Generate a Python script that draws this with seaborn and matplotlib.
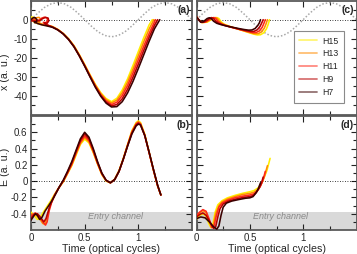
import matplotlib
matplotlib.use("Agg")
import matplotlib.pyplot as plt
import pandas as pd
import seaborn as sns
from matplotlib.lines import Line2D

# ---------------- data ----------------
harmonics = ["H15", "H13", "H11", "H9", "H7"]
colors = ["#ffee00", "#ff8c00", "#ff2a1a", "#b80000", "#3c0000"]

# reference field (grey dotted)
field_t = [0.0, 0.0625, 0.125, 0.1875, 0.25, 0.3125, 0.375, 0.4375, 0.5, 0.5625, 0.625,
           0.6875, 0.75, 0.8125, 0.875, 0.9375, 1.0, 1.0625, 1.125, 1.1875, 1.25, 1.3125,
           1.375, 1.4375, 1.5]
field_v = [0.0, 3.4, 6.4, 8.3, 9.0, 8.3, 6.4, 3.4, 0.0, -3.4, -6.4, -8.3, -9.0, -8.3, -6.4,
           -3.4, 0.0, 3.4, 6.4, 8.3, 9.0, 8.3, 6.4, 3.4, 0.0]

# (a) long trajectories x(t)
a_t_H15 = [0.00, 0.025, 0.04, 0.035, 0.02, 0.04, 0.08, 0.12, 0.16, 0.20, 0.25, 0.30, 0.35, 0.40,
           0.45, 0.50, 0.55, 0.60, 0.65, 0.70, 0.75, 0.80, 0.85, 0.90, 0.95, 1.00, 1.05, 1.10, 1.13]
a_x_H15 = [1.5, 1.2, 0.0, -1.0, -0.8, -1.6, -2.3, -2.8, -3.2, -3.6, -5.1, -7.2, -10.0, -13.6,
           -18.3, -23.5, -28.9, -34.0, -38.3, -41.4, -43.0, -41.2, -36.9, -31.0, -24.0, -16.7,
           -9.5, -2.8, 0.0]
a_t_H13 = [0.00, 0.03, 0.05, 0.075, 0.09, 0.08, 0.06, 0.08, 0.12, 0.16, 0.20, 0.25, 0.30, 0.35,
           0.40, 0.45, 0.50, 0.55, 0.60, 0.65, 0.70, 0.75, 0.80, 0.85, 0.90, 0.95, 1.00, 1.05,
           1.10, 1.145]
a_x_H13 = [0.5, 0.2, 1.0, 1.2, 0.3, -1.0, -1.0, -1.8, -2.6, -3.1, -3.7, -5.2, -7.3, -10.2, -13.8,
           -18.6, -23.8, -29.2, -34.4, -38.8, -42.0, -43.7, -42.2, -38.3, -32.7, -26.0, -18.8,
           -11.7, -5.0, 0.0]
a_t_H11 = [0.00, 0.04, 0.08, 0.10, 0.125, 0.15, 0.155, 0.14, 0.115, 0.13, 0.16, 0.20, 0.25, 0.30,
           0.35, 0.40, 0.45, 0.50, 0.55, 0.60, 0.65, 0.70, 0.75, 0.80, 0.85, 0.90, 0.95, 1.00,
           1.05, 1.10, 1.16]
a_x_H11 = [0.0, -0.3, -0.2, 0.8, 1.3, 0.9, -0.5, -1.6, -1.4, -2.3, -3.0, -3.8, -5.3, -7.4, -10.3,
           -14.0, -18.8, -24.0, -29.5, -34.8, -39.3, -42.7, -44.5, -43.3, -39.8, -34.5, -28.0,
           -21.0, -14.0, -7.3, 0.0]
a_t_H9 = [0.00, 0.04, 0.08, 0.11, 0.135, 0.16, 0.165, 0.15, 0.125, 0.14, 0.17, 0.20, 0.25, 0.30,
          0.35, 0.40, 0.45, 0.50, 0.55, 0.60, 0.65, 0.70, 0.75, 0.80, 0.85, 0.90, 0.95, 1.00,
          1.05, 1.10, 1.15, 1.18]
a_x_H9 = [-0.6, -0.8, -0.5, 0.6, 1.2, 0.8, -0.7, -1.9, -1.7, -2.6, -3.2, -3.9, -5.3, -7.4, -10.3,
          -14.1, -18.9, -24.2, -29.8, -35.2, -39.8, -43.3, -45.2, -44.5, -41.5, -36.5, -30.2,
          -23.3, -16.2, -9.3, -3.0, 0.0]
a_t_H7 = [0.00, 0.02, 0.04, 0.055, 0.05, 0.035, 0.03, 0.06, 0.10, 0.15, 0.20, 0.25, 0.30, 0.35,
          0.40, 0.45, 0.50, 0.55, 0.60, 0.65, 0.70, 0.75, 0.80, 0.85, 0.90, 0.95, 1.00, 1.05,
          1.10, 1.15, 1.20]
a_x_H7 = [0.0, 1.0, 1.0, 0.0, -1.3, -1.6, -1.0, -2.0, -2.7, -3.3, -4.0, -5.4, -7.5, -10.4, -14.2,
          -19.0, -24.4, -30.0, -35.5, -40.2, -43.8, -45.8, -45.6, -43.0, -38.4, -32.4, -25.6,
          -18.5, -11.4, -4.8, 0.0]

# (b) long trajectories E(t)
b_t_H15 = [0.00, 0.03, 0.06, 0.08, 0.11, 0.15, 0.18, 0.22, 0.26, 0.30, 0.34, 0.38, 0.42, 0.46,
           0.50, 0.54, 0.58, 0.62, 0.66, 0.70, 0.74, 0.78, 0.82, 0.86, 0.90, 0.94, 0.98, 1.00,
           1.02, 1.06, 1.10, 1.14, 1.18, 1.21]
b_e_H15 = [-0.38, -0.42, -0.47, -0.46, -0.39, -0.31, -0.25, -0.16, -0.08, -0.01, 0.09, 0.19,
           0.32, 0.45, 0.515, 0.47, 0.35, 0.21, 0.08, 0.00, -0.02, 0.025, 0.13, 0.28, 0.45, 0.62,
           0.72, 0.74, 0.72, 0.575, 0.36, 0.14, -0.06, -0.17]
b_t_H13 = [0.00, 0.04, 0.08, 0.11, 0.13, 0.15, 0.18, 0.22, 0.26, 0.30, 0.34, 0.38, 0.42, 0.46,
           0.50, 0.54, 0.58, 0.62, 0.66, 0.70, 0.74, 0.78, 0.82, 0.86, 0.90, 0.94, 0.98, 1.00,
           1.02, 1.06, 1.10, 1.14, 1.18, 1.21]
b_e_H13 = [-0.40, -0.41, -0.46, -0.52, -0.53, -0.44, -0.29, -0.17, -0.08, -0.005, 0.095, 0.20,
           0.335, 0.465, 0.535, 0.485, 0.36, 0.215, 0.085, 0.005, -0.02, 0.02, 0.125, 0.275,
           0.445, 0.61, 0.71, 0.73, 0.71, 0.57, 0.355, 0.14, -0.06, -0.17]
b_t_H11 = [0.00, 0.04, 0.08, 0.11, 0.135, 0.15, 0.17, 0.19, 0.22, 0.26, 0.30, 0.34, 0.38, 0.42,
           0.46, 0.50, 0.54, 0.58, 0.62, 0.66, 0.70, 0.74, 0.78, 0.82, 0.86, 0.90, 0.94, 0.98,
           1.00, 1.02, 1.06, 1.10, 1.14, 1.18, 1.21]
b_e_H11 = [-0.43, -0.39, -0.43, -0.50, -0.54, -0.50, -0.36, -0.27, -0.17, -0.08, 0.00, 0.10,
           0.21, 0.35, 0.48, 0.555, 0.50, 0.37, 0.22, 0.09, 0.01, -0.02, 0.02, 0.12, 0.27, 0.44,
           0.60, 0.70, 0.72, 0.70, 0.56, 0.35, 0.14, -0.06, -0.17]
b_t_H9 = [0.00, 0.03, 0.06, 0.09, 0.12, 0.14, 0.17, 0.19, 0.22, 0.26, 0.30, 0.34, 0.38, 0.42,
          0.46, 0.50, 0.54, 0.58, 0.62, 0.66, 0.70, 0.74, 0.78, 0.82, 0.86, 0.90, 0.94, 0.98,
          1.00, 1.02, 1.06, 1.10, 1.14, 1.18, 1.21]
b_e_H9 = [-0.46, -0.41, -0.40, -0.45, -0.50, -0.46, -0.33, -0.26, -0.18, -0.08, 0.005, 0.11,
          0.225, 0.365, 0.50, 0.58, 0.52, 0.385, 0.23, 0.095, 0.01, -0.02, 0.02, 0.12, 0.27,
          0.435, 0.59, 0.69, 0.71, 0.695, 0.56, 0.355, 0.145, -0.055, -0.17]
b_t_H7 = [0.00, 0.02, 0.04, 0.06, 0.08, 0.10, 0.13, 0.17, 0.19, 0.22, 0.26, 0.30, 0.34, 0.38,
          0.42, 0.46, 0.50, 0.54, 0.58, 0.62, 0.66, 0.70, 0.74, 0.78, 0.82, 0.86, 0.90, 0.94,
          0.98, 1.00, 1.02, 1.06, 1.10, 1.14, 1.18, 1.21]
b_e_H7 = [-0.48, -0.44, -0.40, -0.42, -0.47, -0.45, -0.37, -0.29, -0.25, -0.18, -0.08, 0.01,
          0.12, 0.24, 0.38, 0.52, 0.60, 0.54, 0.40, 0.24, 0.10, 0.01, -0.02, 0.02, 0.12, 0.27,
          0.43, 0.58, 0.68, 0.70, 0.69, 0.56, 0.36, 0.15, -0.05, -0.17]

# (c) short trajectories x(t)
c_t_H15 = [0.00, 0.02, 0.05, 0.10, 0.13, 0.165, 0.19, 0.21, 0.23, 0.26, 0.30, 0.36, 0.42, 0.48,
           0.53, 0.57, 0.60, 0.63, 0.655, 0.67, 0.685]
c_x_H15 = [1.5, 0.0, -1.5, -1.3, -0.3, 0.8, 1.1, 0.6, -1.1, -2.4, -3.3, -4.4, -5.5, -6.6, -7.5,
           -8.0, -7.9, -6.9, -4.9, -2.8, 0.0]
c_t_H13 = [0.00, 0.02, 0.05, 0.09, 0.12, 0.15, 0.175, 0.195, 0.215, 0.245, 0.29, 0.34, 0.40,
           0.46, 0.51, 0.55, 0.58, 0.61, 0.635, 0.65, 0.665]
c_x_H13 = [1.5, 0.0, -1.5, -1.3, -0.3, 0.8, 1.1, 0.6, -1.0, -2.3, -3.2, -4.1, -5.1, -6.1, -6.9,
           -7.4, -7.3, -6.4, -4.5, -2.5, 0.0]
c_t_H11 = [0.00, 0.02, 0.045, 0.08, 0.11, 0.14, 0.16, 0.18, 0.20, 0.23, 0.27, 0.32, 0.38, 0.44,
           0.49, 0.53, 0.56, 0.59, 0.615, 0.63, 0.645]
c_x_H11 = [1.5, 0.0, -1.4, -1.3, -0.3, 0.7, 1.1, 0.6, -0.9, -2.1, -3.0, -3.9, -4.8, -5.6, -6.3,
           -6.8, -6.7, -5.9, -4.1, -2.2, 0.0]
c_t_H9 = [0.00, 0.02, 0.04, 0.07, 0.10, 0.12, 0.14, 0.16, 0.18, 0.21, 0.25, 0.30, 0.36, 0.42,
          0.47, 0.51, 0.54, 0.57, 0.595, 0.61, 0.625]
c_x_H9 = [1.5, 0.0, -1.3, -1.3, -0.3, 0.6, 1.1, 0.6, -0.8, -2.0, -2.8, -3.6, -4.4, -5.2, -5.8,
          -6.2, -6.1, -5.3, -3.6, -1.9, 0.0]
c_t_H7 = [0.00, 0.02, 0.04, 0.06, 0.08, 0.10, 0.12, 0.14, 0.16, 0.19, 0.23, 0.28, 0.34, 0.40,
          0.45, 0.49, 0.52, 0.55, 0.575, 0.59, 0.60]
c_x_H7 = [1.5, 0.0, -1.3, -1.2, -0.3, 0.6, 1.0, 0.5, -0.8, -1.9, -2.6, -3.3, -4.0, -4.7, -5.2,
          -5.5, -5.4, -4.6, -3.0, -1.6, 0.0]

# (d) short trajectories E(t)
d_t_H15 = [0.00, 0.03, 0.06, 0.09, 0.115, 0.135, 0.155, 0.175, 0.20, 0.24, 0.29, 0.36, 0.43,
           0.50, 0.54, 0.58, 0.62, 0.66, 0.69]
d_e_H15 = [-0.47, -0.42, -0.40, -0.43, -0.52, -0.57, -0.52, -0.38, -0.29, -0.24, -0.205, -0.175,
           -0.15, -0.13, -0.115, -0.08, 0.00, 0.13, 0.28]
d_t_H13 = [0.00, 0.03, 0.06, 0.09, 0.12, 0.14, 0.16, 0.18, 0.21, 0.24, 0.29, 0.36, 0.43, 0.50,
           0.54, 0.58, 0.61, 0.64, 0.665]
d_e_H13 = [-0.44, -0.39, -0.36, -0.39, -0.50, -0.57, -0.53, -0.40, -0.30, -0.255, -0.22, -0.19,
           -0.165, -0.15, -0.135, -0.10, -0.03, 0.07, 0.19]
d_t_H11 = [0.00, 0.03, 0.06, 0.09, 0.12, 0.145, 0.165, 0.185, 0.21, 0.24, 0.29, 0.36, 0.43,
           0.50, 0.54, 0.57, 0.60, 0.625, 0.645]
d_e_H11 = [-0.42, -0.38, -0.35, -0.37, -0.47, -0.57, -0.55, -0.43, -0.32, -0.27, -0.235, -0.205,
           -0.185, -0.17, -0.155, -0.12, -0.06, 0.02, 0.12]
d_t_H9 = [0.00, 0.03, 0.06, 0.09, 0.13, 0.16, 0.18, 0.20, 0.22, 0.25, 0.30, 0.37, 0.44, 0.50,
          0.535, 0.56, 0.59, 0.61, 0.625]
d_e_H9 = [-0.44, -0.41, -0.39, -0.42, -0.51, -0.58, -0.56, -0.44, -0.34, -0.28, -0.245, -0.22,
          -0.20, -0.19, -0.175, -0.14, -0.08, -0.02, 0.05]
d_t_H7 = [0.00, 0.04, 0.08, 0.12, 0.16, 0.19, 0.21, 0.23, 0.25, 0.28, 0.33, 0.40, 0.46, 0.50,
          0.53, 0.56, 0.58, 0.60]
d_e_H7 = [-0.46, -0.44, -0.45, -0.50, -0.56, -0.59, -0.55, -0.42, -0.32, -0.27, -0.245, -0.225,
          -0.21, -0.205, -0.19, -0.14, -0.09, -0.02]

entry_channel_top = -0.38

# ---------------- style ----------------
sns.set_theme(style="white")
plt.rcParams["font.family"] = ["Liberation Sans", "DejaVu Sans"]
plt.rcParams["axes.unicode_minus"] = False

W, H = 357, 254
fig = plt.figure(figsize=(W / 100, H / 100), dpi=100)
fig.patch.set_facecolor("white")


def add_axes(x0, ytop, w, h):
    return fig.add_axes([x0 / W, 1 - (ytop + h) / H, w / W, h / H])


ax_a = add_axes(31, 0.6, 161, 114.4)
ax_b = add_axes(31, 116, 161, 114)
ax_c = add_axes(196.5, 0.6, 160, 114.4)
ax_d = add_axes(196.5, 116, 160, 114)


def frame(df_series):
    rows = []
    for name, (tt, vv) in df_series.items():
        for k, (t, v) in enumerate(zip(tt, vv)):
            rows.append({"harmonic": name, "t": t, "v": v, "k": k})
    return pd.DataFrame(rows)


panel_data = {
    ax_a: {"H15": (a_t_H15, a_x_H15), "H13": (a_t_H13, a_x_H13), "H11": (a_t_H11, a_x_H11),
           "H9": (a_t_H9, a_x_H9), "H7": (a_t_H7, a_x_H7)},
    ax_b: {"H15": (b_t_H15, b_e_H15), "H13": (b_t_H13, b_e_H13), "H11": (b_t_H11, b_e_H11),
           "H9": (b_t_H9, b_e_H9), "H7": (b_t_H7, b_e_H7)},
    ax_c: {"H15": (c_t_H15, c_x_H15), "H13": (c_t_H13, c_x_H13), "H11": (c_t_H11, c_x_H11),
           "H9": (c_t_H9, c_x_H9), "H7": (c_t_H7, c_x_H7)},
    ax_d: {"H15": (d_t_H15, d_e_H15), "H13": (d_t_H13, d_e_H13), "H11": (d_t_H11, d_e_H11),
           "H9": (d_t_H9, d_e_H9), "H7": (d_t_H7, d_e_H7)},
}

spine_col = "#5a5a5a"
for ax in (ax_a, ax_b, ax_c, ax_d):
    ax.set_facecolor("white")
    ax.axhline(0, color="black", ls=(0, (1, 2)), lw=0.6, zorder=1)

for ax in (ax_a, ax_c):
    sns.lineplot(x=field_t, y=field_v, color="#a8a8a8", linestyle=(0, (1, 1.3)), lw=1.1,
                 ax=ax, zorder=1)
    ax.set_ylim(-50, 10)
    ax.set_yticks([-40, -30, -20, -10, 0])
    ax.set_yticks([-45, -35, -25, -15, -5, 5], minor=True)

for ax in (ax_b, ax_d):
    ax.axhspan(-0.6, entry_channel_top, color="#d9d9d9", lw=0, zorder=0)
    ax.text(0.785, -0.44, "Entry channel", style="italic", color="#8a8a8a", fontsize=6.5,
            ha="center", va="center", zorder=1)
    ax.set_ylim(-0.6, 0.8)
    ax.set_yticks([-0.4, -0.2, 0, 0.2, 0.4, 0.6])
    ax.set_yticks([-0.5, -0.3, -0.1, 0.1, 0.3, 0.5, 0.7], minor=True)

for ax, series in panel_data.items():
    df = frame(series)
    sns.lineplot(data=df, x="t", y="v", hue="harmonic", hue_order=harmonics, palette=colors,
                 sort=False, estimator=None, lw=1.15, legend=False, ax=ax, zorder=3)

for ax in (ax_a, ax_b, ax_c, ax_d):
    ax.set_xlim(0, 1.5)
    ax.set_xticks([0, 0.5, 1.0])
    ax.set_xticks([0.25, 0.75, 1.25], minor=True)
    ax.set_xlabel("")
    ax.set_ylabel("")
    ax.tick_params(which="both", direction="in", top=True, right=True, bottom=True, left=True,
                   color="#222222", width=0.8, labelsize=7, pad=2.5)
    ax.tick_params(which="major", length=4)
    ax.tick_params(which="minor", length=2.6)
    for s in ax.spines.values():
        s.set_color(spine_col)
        s.set_linewidth(1.3)
        s.set_visible(True)

for ax in (ax_a, ax_c):
    ax.tick_params(labelbottom=False)
for ax in (ax_c, ax_d):
    ax.tick_params(labelleft=False)

ax_a.set_yticklabels(["-40", "-30", "-20", "-10", "0"])
ax_b.set_yticklabels(["-0.4", "-0.2", "0", "0.2", "0.4", "0.6"])
for ax in (ax_b, ax_d):
    ax.set_xticklabels(["0", "0.5", "1"])
    ax.set_xlabel("Time (optical cycles)", fontsize=7.7, labelpad=0.5)

ax_a.set_ylabel("x (a. u.)", fontsize=7.7)
ax_a.yaxis.set_label_coords(-0.133, 0.38)
ax_b.set_ylabel("E (a. u.)", fontsize=7.7)
ax_b.yaxis.set_label_coords(-0.133, 0.55)

for ax, lab in ((ax_a, "(a)"), (ax_b, "(b)"), (ax_c, "(c)"), (ax_d, "(d)")):
    ax.text(0.985, 0.965, lab, transform=ax.transAxes, ha="right", va="top",
            fontsize=7.5, fontweight="bold", zorder=5)

handles = [Line2D([0], [0], color=c, lw=1.3, alpha=0.55) for c in colors]
leg = ax_c.legend(handles, harmonics, loc="upper right", bbox_to_anchor=(0.95, 0.77),
                  fontsize=6.3, frameon=True, fancybox=False, edgecolor="#8a8a8a",
                  handlelength=2.1, handletextpad=0.6, labelspacing=0.45, borderpad=0.6,
                  framealpha=1)
leg.get_frame().set_linewidth(0.8)

fig.savefig("out.png", dpi=100, facecolor="white")
